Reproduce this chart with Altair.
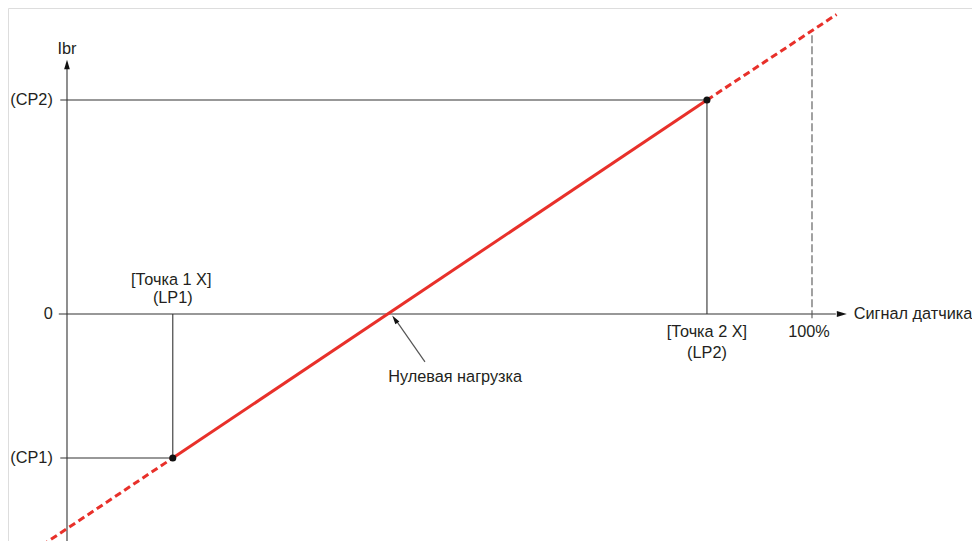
import altair as alt
import pandas as pd

# ---- values (x: sensor signal in %, y: Ibr in relative units, CP2 = 100) ----
lp_x = [14.2, 85.9]          # LP1, LP2 (Точка 1 X, Точка 2 X)
cp_y = [-67.3, 100.0]        # CP1, CP2
ext_x = [-4.6, 103.3]        # dashed extension end points of the characteristic
ext_y = [-111.0, 140.0]
zero_load_x = 43.05
full_scale_x = 100.0

y_tick_labels = ["(CP2)", "0", "(CP1)"]
y_tick_values = [cp_y[1], 0.0, cp_y[0]]

X_DOM = [-7.919, 121.477]
Y_DOM = [-106.08, 142.99]
xs = alt.Scale(domain=X_DOM, nice=False, zero=False)
ys = alt.Scale(domain=Y_DOM, nice=False, zero=False)
FONT = "Liberation Sans"
FS = 16.3
INK = "#333333"
TXT = "#231f20"
RED = "#e8302a"


def enc(df, **extra):
    e = dict(x=alt.X("x:Q", scale=xs, axis=None), y=alt.Y("y:Q", scale=ys, axis=None))
    if "x2" in df.columns:
        e["x2"] = "x2:Q"
    if "y2" in df.columns:
        e["y2"] = "y2:Q"
    e.update(extra)
    return e


# axes and guide lines (solid, dark)
guides = pd.DataFrame({
    "x":  [0.0, -1.1, -0.9, -0.9, lp_x[0], lp_x[1]],
    "y":  [-108.0, 0.0, cp_y[1], cp_y[0], 0.0, 0.0],
    "x2": [0.0, 103.2, lp_x[1], lp_x[0], lp_x[0], lp_x[1]],
    "y2": [114.5, 0.0, cp_y[1], cp_y[0], cp_y[0], cp_y[1]],
})
guide_layer = alt.Chart(guides).mark_rule(color=INK, strokeWidth=1.1).encode(**enc(guides))

# 100 % dashed vertical line
full = pd.DataFrame({"x": [full_scale_x], "y": [-2.0], "x2": [full_scale_x], "y2": [131.0]})
full_layer = alt.Chart(full).mark_rule(color="#555555", strokeWidth=1.1, strokeDash=[8, 3]).encode(**enc(full))

# characteristic: solid part between the two points
solid = pd.DataFrame({"x": lp_x, "y": cp_y})
solid_layer = alt.Chart(solid).mark_line(color=RED, strokeWidth=3).encode(**enc(solid))

# dashed extensions
dashed = pd.DataFrame({"x": [ext_x[0], lp_x[1]], "y": [ext_y[0], cp_y[1]],
                       "x2": [lp_x[0], ext_x[1]], "y2": [cp_y[0], ext_y[1]]})
dashed_layer = alt.Chart(dashed).mark_rule(color=RED, strokeWidth=3, strokeDash=[7, 4]).encode(**enc(dashed))

# black points
pts = pd.DataFrame({"x": lp_x, "y": cp_y})
pts_layer = alt.Chart(pts).mark_circle(color="#111111", size=50, opacity=1).encode(**enc(pts))

# axis arrow heads
up_head = pd.DataFrame({"x": [0.0], "y": [116.6]})
up_layer = alt.Chart(up_head).mark_point(shape="M0,-1L0.6,1L-0.6,1Z", filled=True, color="#111111",
                                         size=90, opacity=1).encode(**enc(up_head))
right_head = pd.DataFrame({"x": [104.0], "y": [0.0]})
right_layer = alt.Chart(right_head).mark_point(shape="M1,0L-1,-0.6L-1,0.6Z", filled=True, color="#111111",
                                               size=100, opacity=1).encode(**enc(right_head))

# annotation arrow to the zero-load point
ann = pd.DataFrame({"x": [48.05], "y": [-22.4], "x2": [44.1], "y2": [-2.6]})
ann_layer = alt.Chart(ann).mark_rule(color="#555555", strokeWidth=1.2).encode(**enc(ann))
ann_head = pd.DataFrame({"x": [44.0], "y": [-2.4]})
ann_head_layer = alt.Chart(ann_head).mark_point(shape="M0,-1L0.55,1L-0.55,1Z", filled=True, color="#111111",
                                                size=80, angle=325, opacity=1).encode(**enc(ann_head))

# texts
right_txt = pd.DataFrame({"x": [-1.9] * 3, "y": y_tick_values, "t": y_tick_labels})
right_txt_layer = alt.Chart(right_txt).mark_text(align="right", baseline="middle", font=FONT, fontSize=FS,
                                                 color=TXT).encode(**enc(right_txt, text="t:N"))

center_txt = pd.DataFrame({
    "x": [0.0, lp_x[0] - 0.2, lp_x[0], lp_x[1], lp_x[1], full_scale_x - 0.4, 52.1],
    "y": [124.0, 16.0, 7.3, -8.4, -18.4, -8.4, -29.4],
    "t": ["Ibr", "[Точка 1 X]", "(LP1)", "[Точка 2 X]", "(LP2)", "100%", "Нулевая нагрузка"],
})
center_txt_layer = alt.Chart(center_txt).mark_text(align="center", baseline="middle", font=FONT, fontSize=FS,
                                                   color=TXT).encode(**enc(center_txt, text="t:N"))

left_txt = pd.DataFrame({"x": [105.6], "y": [0.0], "t": ["Сигнал датчика"]})
left_txt_layer = alt.Chart(left_txt).mark_text(align="left", baseline="middle", font=FONT, fontSize=FS,
                                               color=TXT).encode(**enc(left_txt, text="t:N"))

chart = alt.layer(
    guide_layer, full_layer, dashed_layer, solid_layer, ann_layer, ann_head_layer,
    up_layer, right_layer, pts_layer, right_txt_layer, center_txt_layer, left_txt_layer,
).properties(
    width=964, height=533, padding=0,
    autosize=alt.AutoSizeParams(type="none"),
).configure_view(stroke=None, strokeWidth=0).configure(background="white")

chart.save("out.html", embed_options={"renderer": "svg", "actions": False})
